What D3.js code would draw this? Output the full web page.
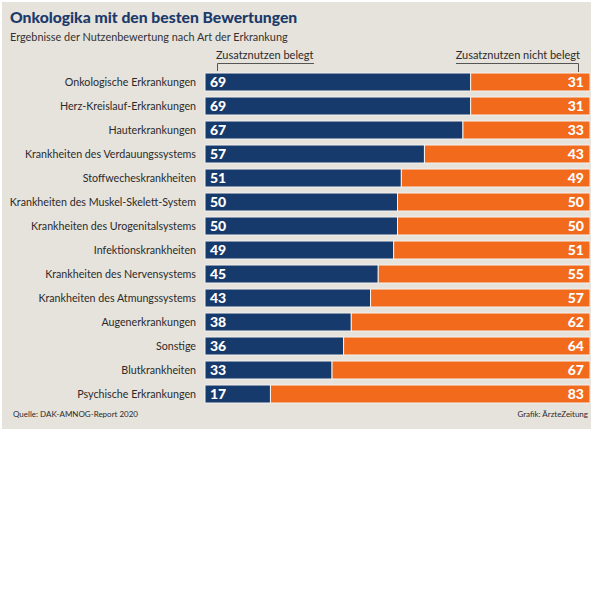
<!DOCTYPE html>
<html>
<head>
<meta charset="utf-8">
<style>
  body { margin: 0; background: #fff; }
  svg { display: block; }
</style>
</head>
<body>
<svg id="chart"></svg>
<script src="https://d3js.org/d3.v7.min.js"></script>
<script>
const categories = [
  "Onkologische Erkrankungen",
  "Herz-Kreislauf-Erkrankungen",
  "Hauterkrankungen",
  "Krankheiten des Verdauungssystems",
  "Stoffwecheskrankheiten",
  "Krankheiten des Muskel-Skelett-System",
  "Krankheiten des Urogenitalsystems",
  "Infektionskrankheiten",
  "Krankheiten des Nervensystems",
  "Krankheiten des Atmungssystems",
  "Augenerkrankungen",
  "Sonstige",
  "Blutkrankheiten",
  "Psychische Erkrankungen"
];
const belegt = [69, 69, 67, 57, 51, 50, 50, 49, 45, 43, 38, 36, 33, 17];
const nichtBelegt = [31, 31, 33, 43, 49, 50, 50, 51, 55, 57, 62, 64, 67, 83];

const width = 600, height = 600;
const blue = "#163a6c", orange = "#f26a1c";
const font = "Lato, 'Open Sans', sans-serif";

const svg = d3.select("#chart").attr("width", width).attr("height", height)
  .style("font-family", font);

// panel background
svg.append("rect").attr("x", 2).attr("y", 2).attr("width", 589).attr("height", 427)
  .attr("fill", "#e6e2dc");

svg.append("text").attr("x", 10).attr("y", 23)
  .attr("font-size", 15.7).attr("font-weight", 900).attr("fill", "#1c3a6a")
  .text("Onkologika mit den besten Bewertungen");
svg.append("text").attr("x", 10).attr("y", 41)
  .attr("font-size", 10.9).attr("fill", "#333")
  .text("Ergebnisse der Nutzenbewertung nach Art der Erkrankung");

const x = d3.scaleLinear().domain([0, 100]).range([205, 590]);
const y = d3.scaleBand().domain(categories).range([70, 406])
  .paddingInner(0.25).paddingOuter(0.125);

const rows = categories.map((c, i) => ({ name: c, a: belegt[i], b: nichtBelegt[i] }));

const g = svg.append("g");
const row = g.selectAll("g").data(rows).join("g");

row.append("rect")
  .attr("x", x(0)).attr("y", d => y(d.name))
  .attr("width", d => x(d.a) - x(0)).attr("height", y.bandwidth())
  .attr("fill", blue).attr("stroke", "#f3f1ed").attr("stroke-width", 1);
row.append("rect")
  .attr("x", d => x(d.a)).attr("y", d => y(d.name))
  .attr("width", d => x(d.a + d.b) - x(d.a)).attr("height", y.bandwidth())
  .attr("fill", orange).attr("stroke", "#f3f1ed").attr("stroke-width", 1);

row.append("text")
  .attr("x", 196).attr("y", d => y(d.name) + y.bandwidth() / 2 + 4)
  .attr("text-anchor", "end").attr("font-size", 10.7).attr("fill", "#2b2b2b")
  .text(d => d.name);
row.append("text")
  .attr("x", x(0) + 5).attr("y", d => y(d.name) + y.bandwidth() / 2 + 5)
  .attr("font-size", 14).attr("font-weight", 900).attr("fill", "#fff")
  .text(d => d.a);
row.append("text")
  .attr("x", x(100) - 6).attr("y", d => y(d.name) + y.bandwidth() / 2 + 5)
  .attr("text-anchor", "end").attr("font-size", 14).attr("font-weight", 900).attr("fill", "#fff")
  .text(d => d.b);

// header brackets
svg.append("text").attr("x", 216).attr("y", 59)
  .attr("font-size", 11).attr("fill", "#2b2b2b").text("Zusatznutzen belegt");
svg.append("path").attr("d", "M217.5,71V63.5H314")
  .attr("fill", "none").attr("stroke", "#555").attr("stroke-width", 1);
svg.append("text").attr("x", 580).attr("y", 59).attr("text-anchor", "end")
  .attr("font-size", 11).attr("fill", "#2b2b2b").text("Zusatznutzen nicht belegt");
svg.append("path").attr("d", "M456,63.5H578.5V72")
  .attr("fill", "none").attr("stroke", "#555").attr("stroke-width", 1);

// footer
svg.append("text").attr("x", 13).attr("y", 417)
  .attr("font-size", 8).attr("fill", "#2b2b2b").text("Quelle: DAK-AMNOG-Report 2020");
svg.append("text").attr("x", 588).attr("y", 417).attr("text-anchor", "end")
  .attr("font-size", 8).attr("fill", "#2b2b2b").text("Grafik: ÄrzteZeitung");
</script>
</body>
</html>
